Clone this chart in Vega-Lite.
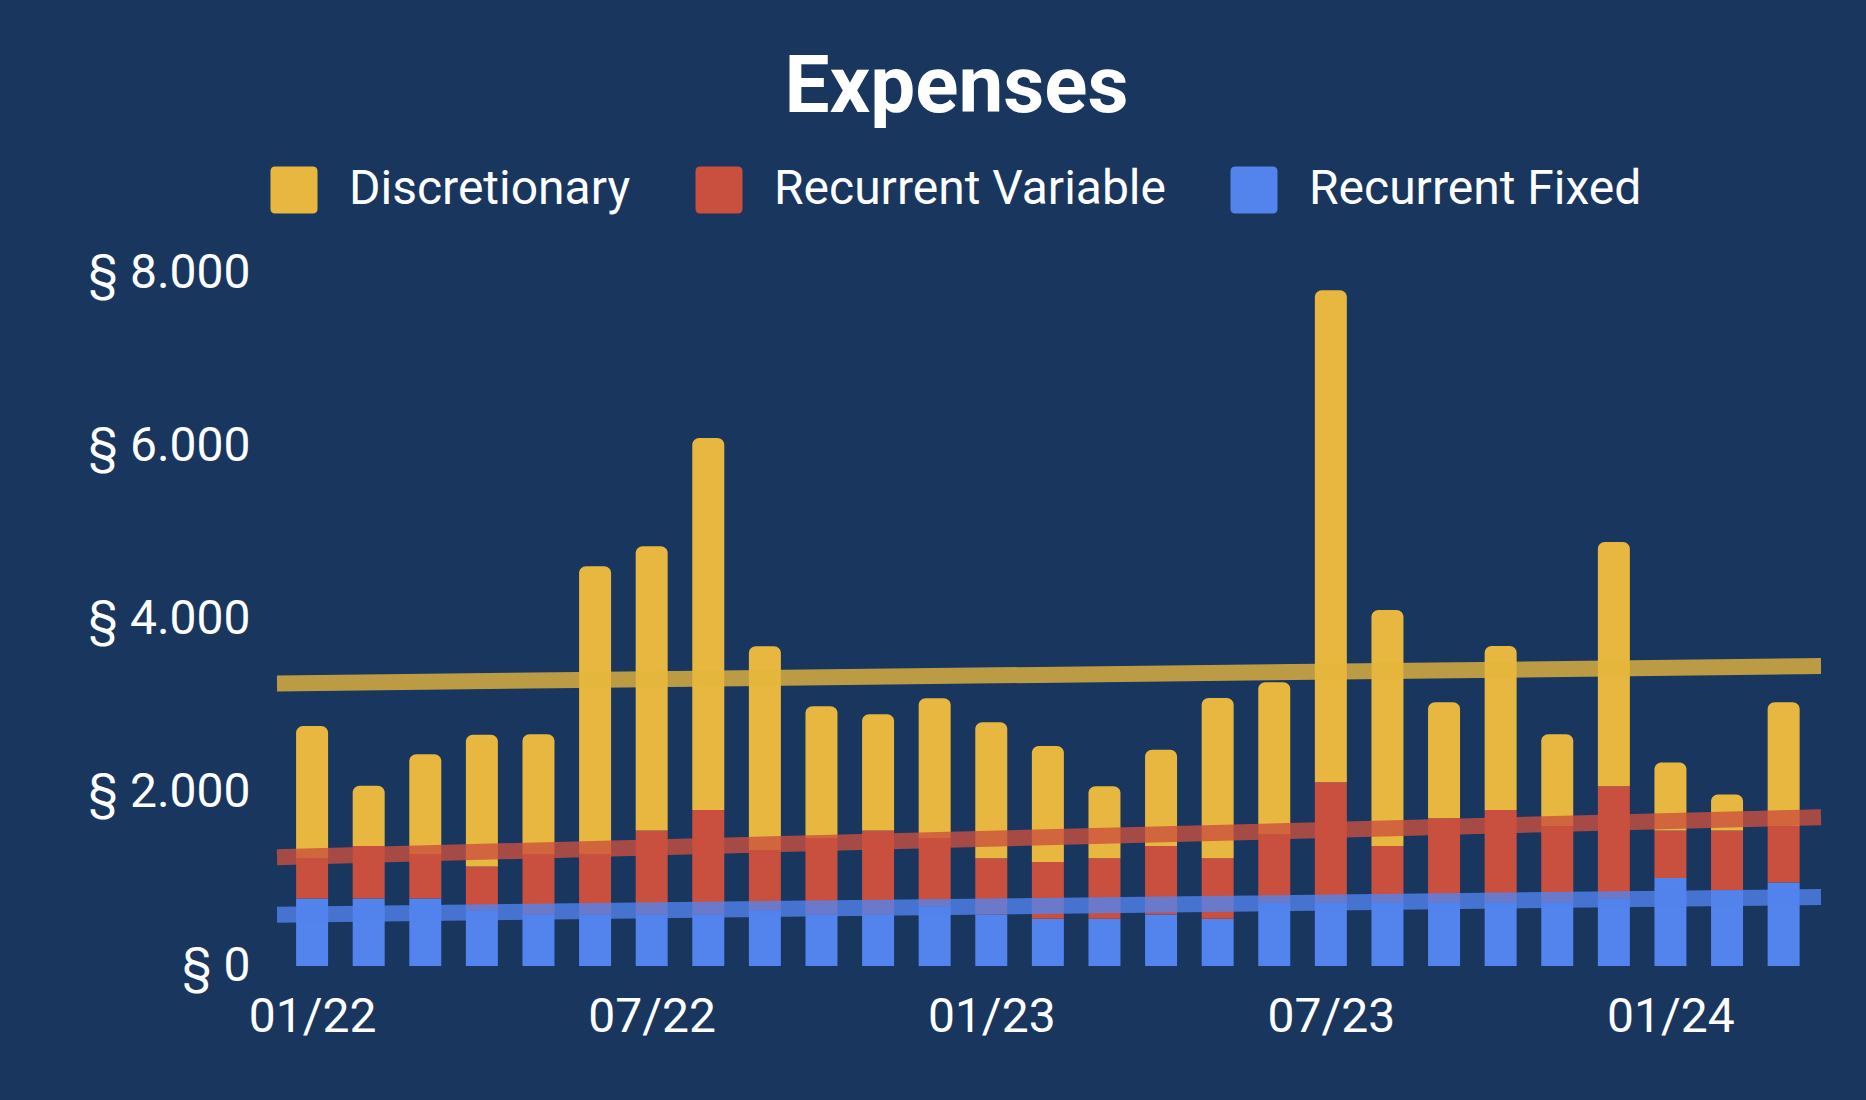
{
  "$schema": "https://vega.github.io/schema/vega-lite/v6.json",
  "width": 1544,
  "height": 693,
  "autosize": {"type": "none"},
  "padding": {"left": 277, "top": 273, "right": 45, "bottom": 134},
  "background": "#19365f",
  "title": {
    "text": "Expenses",
    "font": "Roboto",
    "fontSize": 80,
    "fontWeight": "bold",
    "color": "#ffffff",
    "anchor": "middle",
    "frame": "bounds",
    "baseline": "alphabetic",
    "offset": -26,
    "dx": -14
  },
  "config": {
    "view": {"stroke": null},
    "font": "Roboto"
  },
  "data": {
    "values": [
      {"m": 0, "cat": "Recurrent Fixed", "v": 780}, {"m": 0, "cat": "Recurrent Variable", "v": 465}, {"m": 0, "cat": "Discretionary", "v": 1525},
      {"m": 1, "cat": "Recurrent Fixed", "v": 780}, {"m": 1, "cat": "Recurrent Variable", "v": 605}, {"m": 1, "cat": "Discretionary", "v": 695},
      {"m": 2, "cat": "Recurrent Fixed", "v": 780}, {"m": 2, "cat": "Recurrent Variable", "v": 510}, {"m": 2, "cat": "Discretionary", "v": 1155},
      {"m": 3, "cat": "Recurrent Fixed", "v": 645}, {"m": 3, "cat": "Recurrent Variable", "v": 505}, {"m": 3, "cat": "Discretionary", "v": 1520},
      {"m": 4, "cat": "Recurrent Fixed", "v": 595}, {"m": 4, "cat": "Recurrent Variable", "v": 695}, {"m": 4, "cat": "Discretionary", "v": 1385},
      {"m": 5, "cat": "Recurrent Fixed", "v": 595}, {"m": 5, "cat": "Recurrent Variable", "v": 695}, {"m": 5, "cat": "Discretionary", "v": 3325},
      {"m": 6, "cat": "Recurrent Fixed", "v": 595}, {"m": 6, "cat": "Recurrent Variable", "v": 970}, {"m": 6, "cat": "Discretionary", "v": 3280},
      {"m": 7, "cat": "Recurrent Fixed", "v": 595}, {"m": 7, "cat": "Recurrent Variable", "v": 1205}, {"m": 7, "cat": "Discretionary", "v": 4295},
      {"m": 8, "cat": "Recurrent Fixed", "v": 645}, {"m": 8, "cat": "Recurrent Variable", "v": 690}, {"m": 8, "cat": "Discretionary", "v": 2355},
      {"m": 9, "cat": "Recurrent Fixed", "v": 595}, {"m": 9, "cat": "Recurrent Variable", "v": 880}, {"m": 9, "cat": "Discretionary", "v": 1525},
      {"m": 10, "cat": "Recurrent Fixed", "v": 595}, {"m": 10, "cat": "Recurrent Variable", "v": 970}, {"m": 10, "cat": "Discretionary", "v": 1340},
      {"m": 11, "cat": "Recurrent Fixed", "v": 690}, {"m": 11, "cat": "Recurrent Variable", "v": 785}, {"m": 11, "cat": "Discretionary", "v": 1615},
      {"m": 12, "cat": "Recurrent Fixed", "v": 595}, {"m": 12, "cat": "Recurrent Variable", "v": 650}, {"m": 12, "cat": "Discretionary", "v": 1570},
      {"m": 13, "cat": "Recurrent Fixed", "v": 545}, {"m": 13, "cat": "Recurrent Variable", "v": 655}, {"m": 13, "cat": "Discretionary", "v": 1340},
      {"m": 14, "cat": "Recurrent Fixed", "v": 545}, {"m": 14, "cat": "Recurrent Variable", "v": 700}, {"m": 14, "cat": "Discretionary", "v": 830},
      {"m": 15, "cat": "Recurrent Fixed", "v": 595}, {"m": 15, "cat": "Recurrent Variable", "v": 790}, {"m": 15, "cat": "Discretionary", "v": 1110},
      {"m": 16, "cat": "Recurrent Fixed", "v": 545}, {"m": 16, "cat": "Recurrent Variable", "v": 700}, {"m": 16, "cat": "Discretionary", "v": 1850},
      {"m": 17, "cat": "Recurrent Fixed", "v": 735}, {"m": 17, "cat": "Recurrent Variable", "v": 785}, {"m": 17, "cat": "Discretionary", "v": 1755},
      {"m": 18, "cat": "Recurrent Fixed", "v": 735}, {"m": 18, "cat": "Recurrent Variable", "v": 1385}, {"m": 18, "cat": "Discretionary", "v": 5680},
      {"m": 19, "cat": "Recurrent Fixed", "v": 735}, {"m": 19, "cat": "Recurrent Variable", "v": 650}, {"m": 19, "cat": "Discretionary", "v": 2725},
      {"m": 20, "cat": "Recurrent Fixed", "v": 735}, {"m": 20, "cat": "Recurrent Variable", "v": 970}, {"m": 20, "cat": "Discretionary", "v": 1340},
      {"m": 21, "cat": "Recurrent Fixed", "v": 735}, {"m": 21, "cat": "Recurrent Variable", "v": 1065}, {"m": 21, "cat": "Discretionary", "v": 1895},
      {"m": 22, "cat": "Recurrent Fixed", "v": 735}, {"m": 22, "cat": "Recurrent Variable", "v": 880}, {"m": 22, "cat": "Discretionary", "v": 1060},
      {"m": 23, "cat": "Recurrent Fixed", "v": 780}, {"m": 23, "cat": "Recurrent Variable", "v": 1295}, {"m": 23, "cat": "Discretionary", "v": 2820},
      {"m": 24, "cat": "Recurrent Fixed", "v": 1015}, {"m": 24, "cat": "Recurrent Variable", "v": 550}, {"m": 24, "cat": "Discretionary", "v": 785},
      {"m": 25, "cat": "Recurrent Fixed", "v": 875}, {"m": 25, "cat": "Recurrent Variable", "v": 690}, {"m": 25, "cat": "Discretionary", "v": 415},
      {"m": 26, "cat": "Recurrent Fixed", "v": 965}, {"m": 26, "cat": "Recurrent Variable", "v": 650}, {"m": 26, "cat": "Discretionary", "v": 1430}
    ]
  },
  "transform": [
    {"stack": "v", "groupby": ["m"], "as": ["v0", "v1"]}
  ],
  "encoding": {
    "x": {
      "field": "m",
      "type": "quantitative",
      "scale": {"domain": [-0.62, 26.66], "nice": false, "zero": false, "padding": 0},
      "axis": {
        "values": [0, 6, 12, 18, 24],
        "labelExpr": "timeFormat(datetime(2022, datum.value, 1), '%m/%y')",
        "domain": false,
        "ticks": false,
        "grid": false,
        "labelFont": "Roboto",
        "labelFontSize": 48,
        "labelColor": "#ffffff",
        "labelPadding": 27,
        "labelFlush": false,
        "title": null
      }
    }
  },
  "layer": [
    {
      "transform": [{"filter": "datum.cat != 'Discretionary'"}],
      "mark": {"type": "bar", "width": 32},
      "encoding": {
        "y": {
          "field": "v1",
          "type": "quantitative",
          "scale": {"domain": [0, 8000], "nice": false},
          "axis": {
            "values": [0, 2000, 4000, 6000, 8000],
            "labelExpr": "'§ ' + replace(format(datum.value, ','), ',', '.')",
            "domain": false,
            "ticks": false,
            "grid": false,
            "labelFont": "Roboto",
            "labelFontSize": 48,
            "labelColor": "#ffffff",
            "labelPadding": 27,
            "title": null
          }
        },
        "y2": {"field": "v0"},
        "color": {
          "field": "cat",
          "type": "nominal",
          "scale": {
            "domain": ["Discretionary", "Recurrent Variable", "Recurrent Fixed"],
            "range": ["#e8b73f", "#c9503f", "#5383ec"]
          },
          "legend": {
            "orient": "none",
            "legendX": -7,
            "legendY": -107,
            "direction": "horizontal",
            "title": null,
            "symbolType": "M-0.8,-1H0.8Q1,-1,1,-0.8V0.8Q1,1,0.8,1H-0.8Q-1,1,-1,0.8V-0.8Q-1,-1,-0.8,-1Z",
            "symbolSize": 2209,
            "symbolStrokeWidth": 0,
            "symbolOpacity": 1,
            "labelFont": "Roboto",
            "labelFontSize": 48,
            "labelColor": "#ffffff",
            "labelOffset": 31,
            "columnPadding": 64,
            "labelLimit": 1000,
            "padding": 0
          }
        }
      }
    },
    {
      "transform": [{"filter": "datum.cat == 'Discretionary'"}],
      "mark": {"type": "bar", "width": 32, "cornerRadiusTopLeft": 7, "cornerRadiusTopRight": 7},
      "encoding": {
        "y": {"field": "v1", "type": "quantitative"},
        "y2": {"field": "v0"},
        "color": {"field": "cat", "type": "nominal"}
      }
    },
    {
      "transform": [
        {"regression": "v1", "on": "m", "groupby": ["cat"], "extent": [-0.62, 26.66]}
      ],
      "mark": {"type": "line", "strokeWidth": 16, "opacity": 0.8, "strokeCap": "butt"},
      "encoding": {
        "y": {"field": "v1", "type": "quantitative"},
        "stroke": {
          "field": "cat",
          "type": "nominal",
          "scale": {
            "domain": ["Discretionary", "Recurrent Variable", "Recurrent Fixed"],
            "range": ["#e3b53c", "#c9503f", "#5383ec"]
          },
          "legend": null
        }
      }
    }
  ]
}
